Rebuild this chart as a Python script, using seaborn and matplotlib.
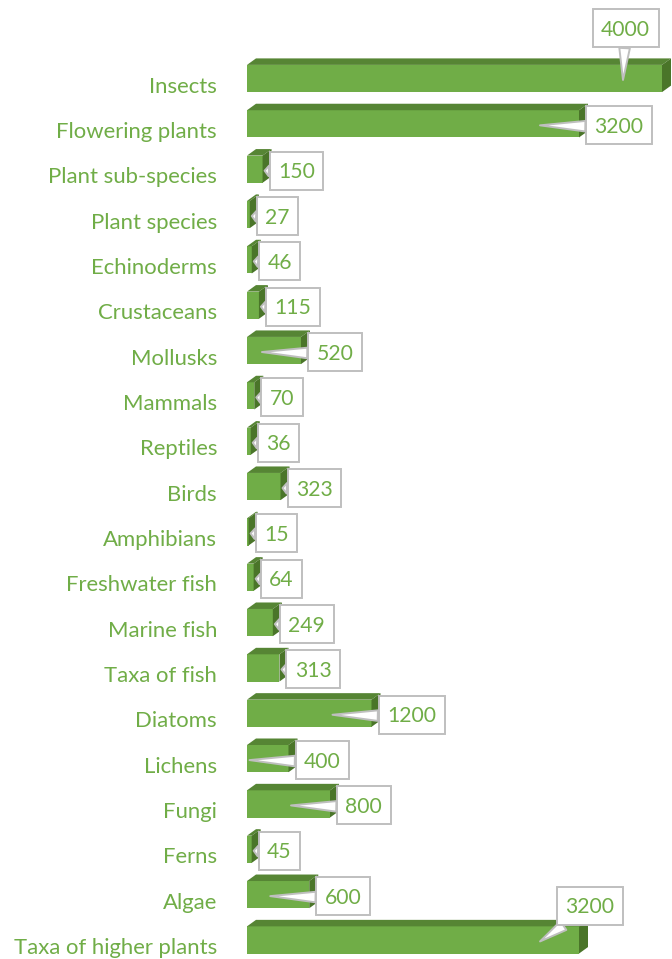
import matplotlib
matplotlib.use('Agg')
import matplotlib.pyplot as plt
import seaborn as sns
import pandas as pd
from matplotlib.patches import Polygon
from matplotlib.path import Path

categories = ["Insects", "Flowering plants", "Plant sub-species", "Plant species",
              "Echinoderms", "Crustaceans", "Mollusks", "Mammals", "Reptiles", "Birds",
              "Amphibians", "Freshwater fish", "Marine fish", "Taxa of fish", "Diatoms",
              "Lichens", "Fungi", "Ferns", "Algae", "Taxa of higher plants"]
values = [4000, 3200, 150, 27, 46, 115, 520, 70, 36, 323,
          15, 64, 249, 313, 1200, 400, 800, 45, 600, 3200]

FRONT = '#70AD47'
TOP = '#568534'
SIDE = '#4A7529'
TEXT = '#70AD47'
EDGE = '#BFBFBF'
FS = 15.9
FS_VAL = 15.2

W, H, DPI = 672, 959, 100
sns.set_theme(style='white')
plt.rcParams['font.family'] = ['Lato', 'DejaVu Sans']

fig = plt.figure(figsize=(W / DPI, H / DPI), dpi=DPI)
ax_left = 247
ax = fig.add_axes([ax_left / W, 0, (W - ax_left) / W, 1])
df = pd.DataFrame({'category': categories, 'value': values})
sns.barplot(data=df, x='value', y='category', orient='h', color=FRONT,
            saturation=1, width=0.6, linewidth=0, ax=ax, zorder=2)

# scales
sx = 0.10375                     # px per unit along x
row_px = 45.34                   # px per category
first_px = 78.5                  # px from top of the first bar centre
xmax = (W - ax_left) / sx
ax.set_xlim(0, xmax)
ytop_lim = -first_px / row_px
ybot_lim = (H - first_px) / row_px
ax.set_ylim(ybot_lim, ytop_lim)
sy = row_px                      # px per unit along y


def px_x(p):
    return p / sx


def px_y(p):
    return p / sy


for s in ax.spines.values():
    s.set_visible(False)
ax.set_xticks([])
ax.set_yticks([])
ax.set_xlabel('')
ax.set_ylabel('')

ddx = px_x(9)
ddy = px_y(6.5)
bars = list(ax.patches)
for p in bars:
    x0, w = p.get_x(), p.get_width()
    x1 = x0 + w
    yt, yb = p.get_y(), p.get_y() + p.get_height()
    top = Polygon([(x0, yt), (x0 + ddx, yt - ddy), (x1 + ddx, yt - ddy), (x1, yt)],
                  closed=True, fc=TOP, ec='none', zorder=2, clip_on=False)
    side = Polygon([(x1, yt), (x1 + ddx, yt - ddy), (x1 + ddx, yb - ddy), (x1, yb)],
                   closed=True, fc=SIDE, ec='none', zorder=2, clip_on=False)
    ax.add_patch(top)
    ax.add_patch(side)

# category labels
for cat, p in zip(categories, bars):
    yc = p.get_y() + p.get_height() / 2
    ax.text(-px_x(30), yc + px_y(8), cat, ha='right', va='center',
            color=TEXT, fontsize=FS, clip_on=False)

HPAD = 8.5
HALF_H = 19.0


def callout_box(x0, y0, width, height, mutation_size):
    cy = y0 + height * 0.58
    verts = [(x0 - HPAD, cy - HALF_H), (x0 + width + HPAD, cy - HALF_H),
             (x0 + width + HPAD, cy + HALF_H), (x0 - HPAD, cy + HALF_H),
             (x0 - HPAD, cy - HALF_H)]
    return Path(verts, closed=True)


# value callouts
special = {"Insects": (-36.5, -50), "Taxa of higher plants": (11, -34)}
for cat, v, p in zip(categories, values, bars):
    end = p.get_x() + p.get_width()
    yc = p.get_y() + p.get_height() / 2
    if end * sx - 39 >= 2:
        tipx = end - px_x(39)
    else:
        tipx = end + px_x(2)
    tipy = yc + px_y(1.5)
    if cat in special:
        ox, oy = special[cat]
        tx, ty, ha = end + px_x(ox), yc + px_y(oy + 1.5), 'center'
    else:
        tx, ty, ha = end + px_x(7 + HPAD), yc + px_y(3), 'left'
    ax.annotate(str(v), xy=(tipx, tipy), xytext=(tx, ty), ha=ha, va='center',
                color=TEXT, fontsize=FS_VAL, zorder=6, annotation_clip=False,
                bbox=dict(boxstyle=callout_box, fc='white', ec=EDGE, lw=1.4),
                arrowprops=dict(arrowstyle='wedge,tail_width=0.5,shrink_factor=0.5',
                                fc='white', ec=EDGE, lw=1.4, shrinkA=0, shrinkB=0))

fig.savefig('out.png', dpi=DPI)
